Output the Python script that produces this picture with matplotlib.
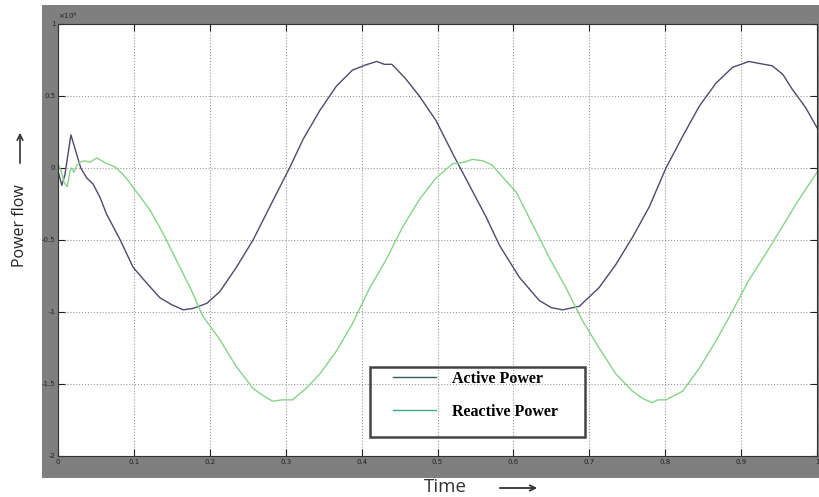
import numpy as np
import matplotlib.pyplot as plt
from matplotlib.patches import Rectangle

# Values (power in units of 1e4)
t_active = [0.0, 0.005, 0.009, 0.017, 0.03, 0.038, 0.046, 0.055, 0.064, 0.082,
            0.099, 0.117, 0.134, 0.15, 0.165, 0.178, 0.196, 0.213, 0.235, 0.257,
            0.279, 0.305, 0.323, 0.345, 0.367, 0.388, 0.405, 0.42, 0.43, 0.44,
            0.458, 0.476, 0.498, 0.52, 0.538, 0.564, 0.582, 0.608, 0.634, 0.65,
            0.665, 0.687, 0.713, 0.735, 0.757, 0.779, 0.801, 0.823, 0.845, 0.867,
            0.889, 0.9, 0.91, 0.925, 0.941, 0.955, 0.967, 0.985, 1.0]
p_active = [-0.02, -0.12, -0.05, 0.23, 0.0, -0.07, -0.11, -0.2, -0.32, -0.5,
            -0.69, -0.8, -0.9, -0.95, -0.985, -0.975, -0.94, -0.86, -0.69, -0.5,
            -0.27, 0.0, 0.2, 0.4, 0.57, 0.68, 0.715, 0.74, 0.72, 0.72,
            0.62, 0.5, 0.33, 0.1, -0.08, -0.34, -0.54, -0.76, -0.92, -0.97,
            -0.985, -0.96, -0.83, -0.67, -0.48, -0.27, 0.0, 0.22, 0.43, 0.59,
            0.7, 0.72, 0.74, 0.725, 0.71, 0.65, 0.55, 0.42, 0.28]

t_reactive = [0.0, 0.004, 0.008, 0.012, 0.016, 0.018, 0.021, 0.025, 0.029, 0.035,
              0.042, 0.051, 0.058, 0.064, 0.07, 0.077, 0.09, 0.104, 0.121, 0.138,
              0.156, 0.174, 0.191, 0.213, 0.235, 0.257, 0.27, 0.283, 0.295, 0.309,
              0.327, 0.345, 0.367, 0.388, 0.41, 0.432, 0.454, 0.476, 0.498, 0.52,
              0.535, 0.546, 0.56, 0.572, 0.582, 0.604, 0.625, 0.647, 0.669, 0.691,
              0.713, 0.735, 0.757, 0.77, 0.783, 0.79, 0.801, 0.823, 0.845, 0.867,
              0.889, 0.91, 0.932, 0.954, 0.976, 1.0]
p_reactive = [0.03, -0.02, -0.1, -0.13, -0.02, 0.0, -0.03, 0.02, 0.04, 0.05,
              0.04, 0.07, 0.05, 0.03, 0.02, 0.0, -0.07, -0.17, -0.29, -0.45,
              -0.64, -0.83, -1.03, -1.19, -1.38, -1.53, -1.58, -1.62, -1.61, -1.61,
              -1.53, -1.43, -1.27, -1.08, -0.84, -0.64, -0.41, -0.22, -0.07, 0.03,
              0.04, 0.06, 0.05, 0.02, -0.04, -0.17, -0.39, -0.62, -0.83, -1.06,
              -1.25, -1.43, -1.55, -1.6, -1.63, -1.61, -1.61, -1.55, -1.39, -1.2,
              -0.99, -0.78, -0.6, -0.41, -0.22, -0.03]

x_ticks = [0, 0.1, 0.2, 0.3, 0.4, 0.5, 0.6, 0.7, 0.8, 0.9, 1]
x_labels = ['0', '0.1', '0.2', '0.3', '0.4', '0.5', '0.6', '0.7', '0.8', '0.9', '1']
y_ticks = [-2, -1.5, -1, -0.5, 0, 0.5, 1]
y_labels = ['-2', '-1.5', '-1', '-0.5', '0', '0.5', '1']

W, H = 819, 497
fig = plt.figure(figsize=(W / 100, H / 100), dpi=100)
# grey MATLAB-like frame behind the axes
fig.patches.append(Rectangle((42 / W, 1 - 478 / H), 1, (478 - 5) / H, transform=fig.transFigure,
                             facecolor='#7f7f7f', edgecolor='none', zorder=-1))
ax = fig.add_axes([58 / W, 1 - 456 / H, (817 - 58) / W, (456 - 24) / H])
ax.set_zorder(2)
ax.set_facecolor('white')

ax.plot(t_active, p_active, color='#4b4b6e', lw=1.0, label='Active Power')
ax.plot(t_reactive, p_reactive, color='#86d486', lw=1.0, label='Reactive Power')

ax.set_xlim(0, 1)
ax.set_ylim(-2, 1)
ax.set_xticks(x_ticks)
ax.set_xticklabels(x_labels)
ax.set_yticks(y_ticks)
ax.set_yticklabels(y_labels)
ax.tick_params(direction='in', top=True, right=True, length=5, width=0.8,
               labelsize=5, colors='#222222', pad=2)
ax.grid(True, linestyle=':', color='#999999', lw=0.8)
for s in ax.spines.values():
    s.set_color('#333333')

ax.text(0.0, 1.005, r'$\times10^4$', transform=ax.transAxes, fontsize=5,
        color='#222222', va='bottom', ha='left')

# axis labels with long arrows
fig.text(20 / W, 1 - 226 / H, 'Power flow', rotation=90, fontsize=11.5,
         family='Open Sans', va='center', ha='center', color='#222222')
ax.annotate('', xy=(20 / W, 1 - 130 / H), xytext=(20 / W, 1 - 166 / H),
            xycoords='figure fraction', textcoords='figure fraction',
            arrowprops=dict(arrowstyle='->', color='#333333', lw=1.2))
fig.text(445 / W, 1 - 487 / H, 'Time', fontsize=13.5, family='Open Sans',
         va='center', ha='center', color='#333333')
ax.annotate('', xy=(540 / W, 1 - 488 / H), xytext=(497 / W, 1 - 488 / H),
            xycoords='figure fraction', textcoords='figure fraction',
            arrowprops=dict(arrowstyle='->', color='#333333', lw=1.3))

# legend: transparent box drawn separately, entries placed inside
box = Rectangle(((370 - 58) / 759, (456 - 437) / 432), (585 - 370) / 759, (437 - 367) / 432,
                transform=ax.transAxes, facecolor='none', edgecolor='#444444', lw=1.8, zorder=5)
ax.add_patch(box)
leg = ax.legend(loc='upper left', bbox_to_anchor=((393 - 58) / 759, (456 - 371) / 432),
                frameon=False, prop={'family': 'Liberation Serif', 'weight': 'bold', 'size': 11.5},
                handlelength=2.7, handletextpad=1.0, labelspacing=1.05,
                borderpad=0, borderaxespad=0)
for h in leg.get_lines():
    h.set_color('#2f5f5f' if h.get_label() == 'Active Power' else '#3aa88a')

fig.savefig('out.png', dpi=100)
